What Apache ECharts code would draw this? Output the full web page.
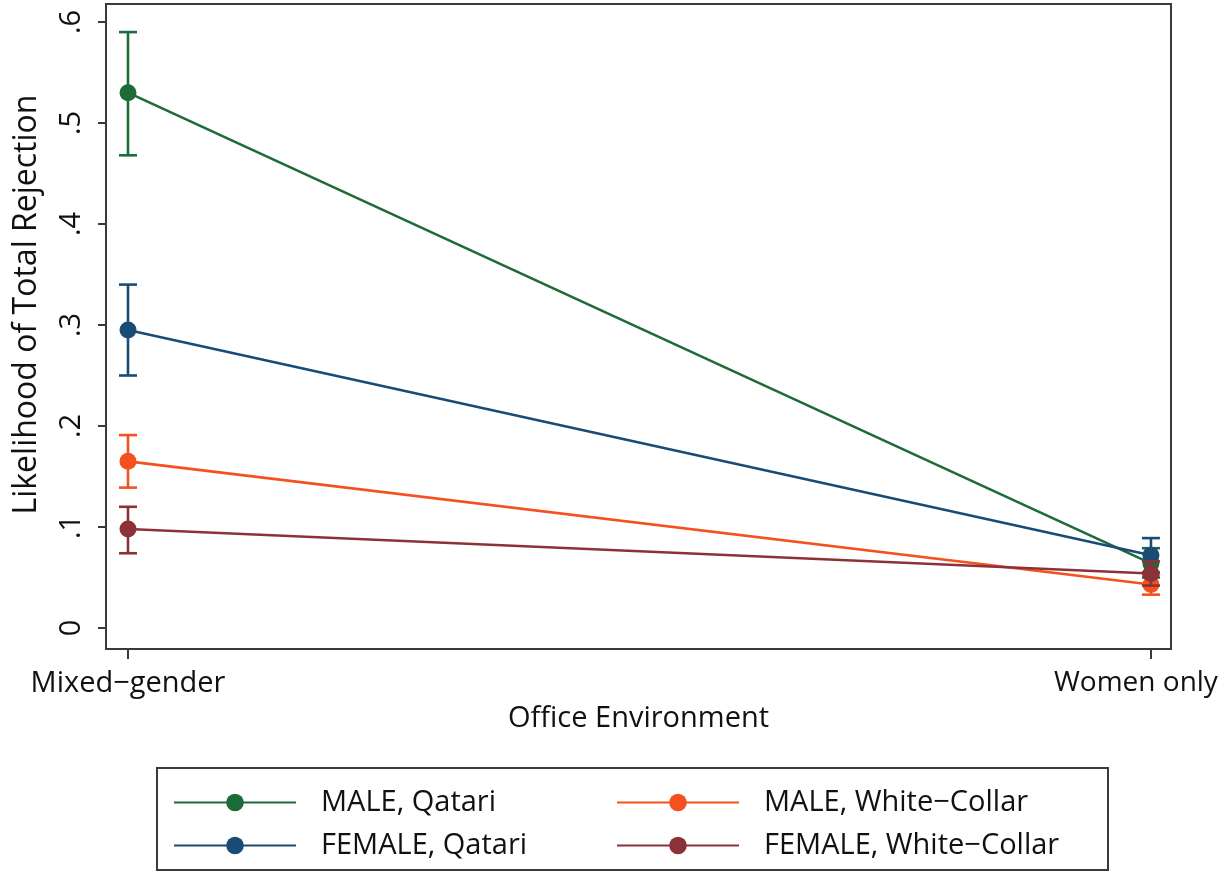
<!DOCTYPE html>
<html>
<head>
<meta charset="utf-8">
<script src="https://cdn.jsdelivr.net/npm/echarts@6/dist/echarts.min.js"></script>
<style>
html,body{margin:0;padding:0;background:#fff;}
#chart{width:1226px;height:876px;}
</style>
</head>
<body>
<div id="chart"></div>
<script>
// ---- data ----
var categories = ["Mixed\u2212gender", "Women only"];
var seriesNames = ["MALE, Qatari", "FEMALE, Qatari", "MALE, White\u2212Collar", "FEMALE, White\u2212Collar"];
var maleQatari = [0.530, 0.064];
var maleQatariLow = [0.468, 0.050];
var maleQatariHigh = [0.590, 0.079];
var femaleQatari = [0.295, 0.072];
var femaleQatariLow = [0.250, 0.055];
var femaleQatariHigh = [0.340, 0.089];
var maleWC = [0.165, 0.043];
var maleWCLow = [0.139, 0.033];
var maleWCHigh = [0.191, 0.053];
var femaleWC = [0.098, 0.054];
var femaleWCLow = [0.074, 0.042];
var femaleWCHigh = [0.120, 0.066];
var yTicks = [0, 0.1, 0.2, 0.3, 0.4, 0.5, 0.6];

var colors = ["#1d6b36", "#1a4b75", "#f4511e", "#8b3238"];
var FONT = "Open Sans";
var FS = 29;

var points = [maleQatari, femaleQatari, maleWC, femaleWC];
var lows = [maleQatariLow, femaleQatariLow, maleWCLow, femaleWCLow];
var highs = [maleQatariHigh, femaleQatariHigh, maleWCHigh, femaleWCHigh];

var series = [];
for (var s = 0; s < 4; s++) {
  (function (s) {
    var errData = categories.map(function (c, i) { return [i + 1, lows[s][i], highs[s][i]]; });
    series.push({
      type: 'custom',
      name: seriesNames[s] + ' ci',
      z: 2 + s * 2,
      data: errData,
      renderItem: function (params, api) {
        var x = api.value(0);
        var lo = api.coord([x, api.value(1)]);
        var hi = api.coord([x, api.value(2)]);
        var hw = 9;
        var st = { stroke: colors[s], lineWidth: 2.6 };
        return {
          type: 'group',
          children: [
            { type: 'line', shape: { x1: lo[0], y1: lo[1], x2: hi[0], y2: hi[1] }, style: st },
            { type: 'line', shape: { x1: lo[0] - hw, y1: lo[1], x2: lo[0] + hw, y2: lo[1] }, style: st },
            { type: 'line', shape: { x1: hi[0] - hw, y1: hi[1], x2: hi[0] + hw, y2: hi[1] }, style: st }
          ]
        };
      },
      silent: true
    });
    series.push({
      type: 'line',
      name: seriesNames[s],
      z: 3 + s * 2,
      data: categories.map(function (c, i) { return [i + 1, points[s][i]]; }),
      symbol: 'circle',
      symbolSize: 17,
      showSymbol: true,
      color: colors[s],
      lineStyle: { width: 2.6, color: colors[s] },
      itemStyle: { color: colors[s] },
      animation: false
    });
  })(s);
}

var chart = echarts.init(document.getElementById('chart'));
var legendCommon = {
  orient: 'vertical',
  itemWidth: 122,
  itemHeight: 22,
  itemGap: 12,
  textStyle: { fontFamily: FONT, fontSize: FS, color: '#111', padding: [0, 0, 0, 20], lineHeight: 31 },
  selectedMode: false
};
chart.setOption({
  animation: false,
  backgroundColor: '#fff',
  grid: { left: 106, right: 55, top: 4, bottom: 227, show: true, borderColor: '#3a3a3a', borderWidth: 2, containLabel: false, outerBoundsMode: 'none' },
  xAxis: {
    type: 'value',
    min: 0.9785,
    max: 2.0196,
    splitLine: { show: false },
    axisLine: { show: false, onZero: false },
    axisTick: { show: true, customValues: [1, 2], length: 10, lineStyle: { color: '#3a3a3a', width: 2 } },
    axisLabel: {
      customValues: [1, 2],
      formatter: function (v) {
        var i = Math.round(v) - 1;
        return i === categories.length - 1 ? '{r|' + categories[i] + '}' : (categories[i] || '');
      },
      rich: { r: { fontFamily: FONT, fontSize: 28, color: '#111', padding: [0, 30, 0, 0] } },
      fontFamily: FONT, fontSize: FS, color: '#111', margin: 20
    },
    name: 'Office Environment',
    nameLocation: 'middle',
    nameGap: 55,
    nameTextStyle: { fontFamily: FONT, fontSize: FS, color: '#111' }
  },
  yAxis: {
    type: 'value',
    min: -0.0208,
    max: 0.6178,
    splitLine: { show: false },
    axisLine: { show: false, onZero: false },
    axisTick: { show: true, customValues: yTicks, length: 8, lineStyle: { color: '#3a3a3a', width: 2 } },
    axisLabel: {
      customValues: yTicks,
      rotate: 90,
      formatter: function (v) { var r = Math.round(v * 10); return r === 0 ? '0' : '.' + r; },
      fontFamily: FONT, fontSize: FS, color: '#111', margin: 20
    },
    name: 'Likelihood of Total Rejection',
    nameLocation: 'middle',
    nameGap: 63,
    nameTextStyle: { fontFamily: FONT, fontSize: 32, color: '#111', padding: [0, 0, 0, 44] }
  },
  legend: [
    Object.assign({}, legendCommon, { left: 168, top: 782, data: [seriesNames[0], seriesNames[1]] }),
    Object.assign({}, legendCommon, { left: 611, top: 782, data: [seriesNames[2], seriesNames[3]] })
  ],
  graphic: [{
    type: 'rect',
    shape: { x: 157, y: 768, width: 951, height: 102 },
    style: { fill: 'none', stroke: '#3a3a3a', lineWidth: 2 },
    silent: true
  }],
  series: series
});
</script>
</body>
</html>
